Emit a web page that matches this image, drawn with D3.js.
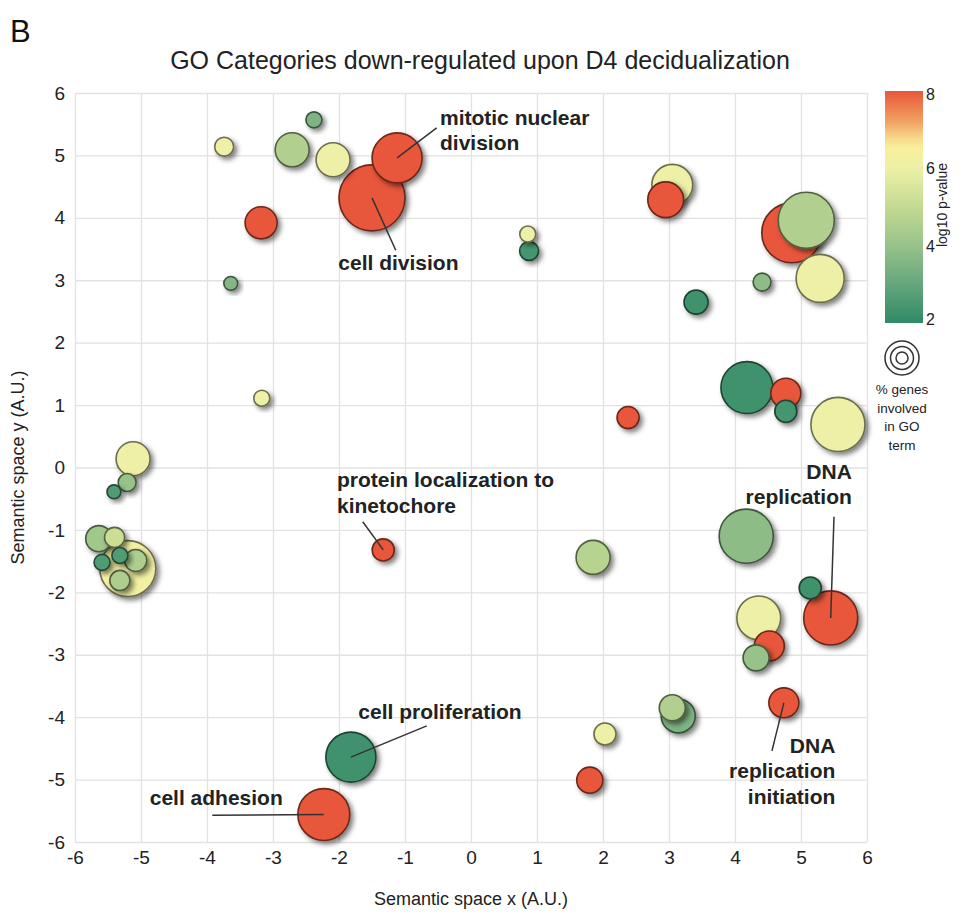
<!DOCTYPE html>
<html>
<head>
<meta charset="utf-8">
<script src="https://cdn.jsdelivr.net/npm/d3@7"></script>
<style>
  body { margin: 0; background: #fff; }
  svg { font-family: "Liberation Sans", Arial, sans-serif; }
</style>
</head>
<body>
<svg id="chart" width="965" height="916"></svg>
<script>
// bubble positions in semantic space, log10 p-value and size (% genes)
var semX = [-3.74, -2.38, -2.71, -2.09, -1.12, -1.50, -3.18, -3.64, -3.17, 0.86, 0.88, 3.05, 2.95, 4.86, 5.08, 5.29, 4.41, 3.41,
            4.18, 4.77, 4.77, 5.56, 2.38, 4.17, 1.85, 5.14, 5.45, 4.36, 4.52, 4.32, 4.74, 3.14, 3.05, 2.03, 1.80,
            -1.82, -2.23, -1.33, -5.12, -5.21, -5.41, -5.20, -5.64, -5.40, -5.59, -5.32, -5.08, -5.32];
var semY = [5.14, 5.57, 5.09, 4.93, 4.96, 4.32, 3.92, 2.95, 1.11, 3.74, 3.47, 4.53, 4.29, 3.76, 3.96, 3.03, 2.97, 2.65,
            1.28, 1.19, 0.90, 0.69, 0.80, -1.10, -1.44, -1.93, -2.41, -2.41, -2.86, -3.05, -3.77, -3.98, -3.85, -4.27, -5.01,
            -4.64, -5.56, -1.32, 0.14, -0.24, -0.39, -1.62, -1.14, -1.12, -1.52, -1.41, -1.49, -1.81];
var logP = [6.0, 3.5, 4.6, 6.0, 8.0, 8.0, 8.0, 3.6, 6.0, 6.0, 2.4, 6.0, 8.0, 8.0, 4.6, 6.0, 3.8, 2.3,
            2.3, 8.0, 2.4, 6.0, 8.0, 3.8, 4.7, 2.3, 8.0, 6.0, 8.0, 4.0, 8.0, 3.5, 4.6, 6.0, 8.0,
            2.3, 8.0, 8.0, 6.0, 4.0, 2.6, 6.2, 4.2, 5.2, 2.6, 2.6, 4.5, 4.5];
var pctGenes = [5.6, 4, 18, 18, 39, 68, 16, 3, 4, 4, 5.6, 26, 20, 56, 49, 36, 5, 9,
                42, 14, 7.6, 45.6, 7.6, 45.6, 18, 7.6, 45.6, 30, 14, 10.6, 14, 18, 10.6, 7.6, 10.6,
                39, 42, 7.6, 18, 5, 3, 49, 10.6, 6.3, 4, 4, 7.6, 6.3];

var xTicks = [-6, -5, -4, -3, -2, -1, 0, 1, 2, 3, 4, 5, 6];
var yTicks = [-6, -5, -4, -3, -2, -1, 0, 1, 2, 3, 4, 5, 6];
var pTicks = [2, 4, 6, 8];

// annotated GO terms: bubble index, text lines, text anchor point, leader start
var noteIdx = [4, 5, 37, 35, 36, 26, 30];
var noteLines = [["mitotic nuclear", "division"], ["cell division"], ["protein localization to", "kinetochore"],
                 ["cell proliferation"], ["cell adhesion"], ["DNA", "replication"], ["DNA", "replication", "initiation"]];
var noteAnchor = ["start", "middle", "start", "middle", "middle", "end", "end"];
var noteX = [-0.47, -1.10, -2.03, -0.47, -3.86, 5.77, 5.52];
var noteY = [5.49, 3.16, -0.32, -4.03, -5.41, -0.18, -4.57];
var leadX = [-0.52, -1.14, -1.64, -0.67, -3.92, 5.50, 4.56];
var leadY = [5.44, 3.48, -0.87, -4.14, -5.57, -0.79, -4.54];

var margin = {top: 93, left: 75, right: 98, bottom: 74};
var W = 965, H = 916;
var pw = W - margin.left - margin.right;
var ph = H - margin.top - margin.bottom;

var svg = d3.select('#chart');

var x = d3.scaleLinear().domain([-6, 6]).range([margin.left, margin.left + pw]);
var y = d3.scaleLinear().domain([-6, 6]).range([margin.top + ph, margin.top]);
var r = d3.scaleSqrt().domain([0, 70]).range([0, 33.5]);
var color = d3.scaleLinear()
  .domain([2, 3, 4, 5, 6, 6.6, 7.2, 8])
  .range(['#2f8a66', '#64a67c', '#97c28a', '#c3da92', '#edf0a6', '#f9f09c', '#f2a263', '#e8573a'])
  .clamp(true);

var defs = svg.append('defs');
var shadow = defs.append('filter').attr('id', 'shadow')
  .attr('x', '-30%').attr('y', '-30%').attr('width', '170%').attr('height', '170%');
shadow.append('feDropShadow').attr('dx', 3).attr('dy', 3).attr('stdDeviation', 2.4)
  .attr('flood-color', '#000').attr('flood-opacity', 0.5);

// panel letter and title
svg.append('text').attr('x', 10).attr('y', 42).attr('font-size', 31).attr('fill', '#111').text('B');
svg.append('text').attr('x', 480).attr('y', 69).attr('text-anchor', 'middle')
  .attr('font-size', 25).attr('fill', '#222')
  .attr('transform', 'translate(480,0) scale(1,1.05) translate(-480,-3)')
  .text('GO Categories down-regulated upon D4 decidualization');

// grid + tick labels
var fmt = function(d) { return String(d); };
var gx = svg.append('g').attr('transform', 'translate(0,' + (margin.top + ph) + ')')
  .call(d3.axisBottom(x).tickValues(xTicks).tickSize(-ph).tickPadding(9).tickFormat(fmt));
var gy = svg.append('g').attr('transform', 'translate(' + margin.left + ',0)')
  .call(d3.axisLeft(y).tickValues(yTicks).tickSize(-pw).tickPadding(10).tickFormat(fmt));
[gx, gy].forEach(function(g) {
  g.select('.domain').remove();
  g.selectAll('.tick line').attr('stroke', '#e2e2e2').attr('stroke-width', 1.3);
  g.selectAll('.tick text').attr('font-size', 19).attr('fill', '#222')
    .attr('font-family', '"Liberation Sans", Arial, sans-serif');
});

svg.append('text').attr('x', x(0)).attr('y', 905).attr('text-anchor', 'middle')
  .attr('font-size', 18).attr('fill', '#222').text('Semantic space x (A.U.)');
svg.append('text').attr('transform', 'translate(24,' + y(0) + ') rotate(-90)').attr('text-anchor', 'middle')
  .attr('font-size', 18).attr('fill', '#222').text('Semantic space y (A.U.)');

// bubbles, largest drawn first
var bubbles = semX.map(function(v, i) {
  return {i: i, x: v, y: semY[i], p: logP[i], s: pctGenes[i]};
}).sort(function(a, b) { return b.s - a.s; });

svg.append('g').selectAll('circle').data(bubbles).enter().append('circle')
  .attr('cx', function(d) { return x(d.x); })
  .attr('cy', function(d) { return y(d.y); })
  .attr('r', function(d) { return r(d.s); })
  .attr('fill', function(d) { return color(d.p); })
  .attr('stroke', function(d) { return d3.color(color(d.p)).darker(2.2); })
  .attr('stroke-width', 1.6)
  .attr('filter', 'url(#shadow)');

// annotations
var notes = svg.append('g');
noteIdx.forEach(function(bi, k) {
  notes.append('line')
    .attr('x1', x(leadX[k])).attr('y1', y(leadY[k]))
    .attr('x2', x(semX[bi])).attr('y2', y(semY[bi]))
    .attr('stroke', '#333').attr('stroke-width', 1.5);
  var t = notes.append('text').attr('text-anchor', noteAnchor[k])
    .attr('font-size', 21).attr('font-weight', 'bold').attr('fill', '#222');
  noteLines[k].forEach(function(line, j) {
    t.append('tspan').attr('x', x(noteX[k])).attr('y', y(noteY[k]) + j * 25.5).text(line);
  });
});

// colour bar legend
var cbX = 885, cbW = 38, cbTop = 91, cbBot = 323;
var cy = d3.scaleLinear().domain([2, 8]).range([cbBot, cbTop]);
var grad = defs.append('linearGradient').attr('id', 'cbar')
  .attr('x1', 0).attr('y1', 1).attr('x2', 0).attr('y2', 0);
d3.range(2, 8.01, 0.25).forEach(function(v) {
  grad.append('stop').attr('offset', (v - 2) / 6).attr('stop-color', color(v));
});
svg.append('rect').attr('x', cbX).attr('y', cbTop).attr('width', cbW).attr('height', cbBot - cbTop)
  .attr('fill', 'url(#cbar)');
svg.append('g').selectAll('text').data(pTicks).enter().append('text')
  .attr('x', cbX + cbW + 3).attr('y', function(d) { return cy(d) + (d === 8 ? 9 : d === 2 ? 2 : 6); })
  .attr('font-size', 16).attr('fill', '#222').text(function(d) { return d; });
svg.append('text').attr('transform', 'translate(947,205) rotate(-90)').attr('text-anchor', 'middle')
  .attr('font-size', 14).attr('fill', '#222').text('log10 p-value');

// size legend
[17, 11.5, 6].forEach(function(rr) {
  svg.append('circle').attr('cx', 902).attr('cy', 358).attr('r', rr)
    .attr('fill', 'none').attr('stroke', '#333').attr('stroke-width', 1.5);
});
['% genes', 'involved', 'in GO', 'term'].forEach(function(s, j) {
  svg.append('text').attr('x', 902).attr('y', 394 + j * 18.5).attr('text-anchor', 'middle')
    .attr('font-size', 13.5).attr('fill', '#222').text(s);
});
</script>
</body>
</html>
